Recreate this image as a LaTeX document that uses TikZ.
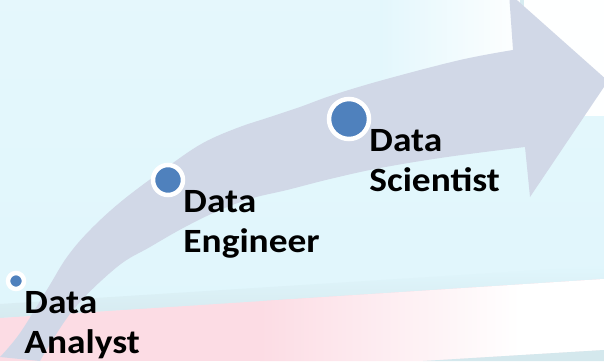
\documentclass[tikz,border=0pt]{standalone}
\usepackage{fontspec}
\setmainfont{Carlito}
\newfontfamily\rolefont[FakeStretch=1.1]{Carlito}
\usetikzlibrary{positioning}

\definecolor{bgcyan}{RGB}{224,246,252}
\definecolor{bgshadow}{RGB}{207,226,231}
\definecolor{bandpink}{RGB}{252,220,228}
\definecolor{arrowgray}{RGB}{209,216,231}
\definecolor{dotblue}{RGB}{79,129,189}

\tikzset{
    dot/.style={circle, fill=dotblue, draw=white, line width=4.5pt, inner sep=0pt},
    role/.style={align=left, inner sep=0pt, font=\rolefont\bfseries\fontsize{34}{40}\selectfont}
}

\begin{document}
\begin{tikzpicture}[x=1pt, y=-1pt]
        \useasboundingbox (0,0) rectangle (604,361);
        \clip (0,0) rectangle (604,361);

        % Фон
        \shade[top color=bgcyan!85!white, bottom color=bgcyan] (0,0) rectangle (604,320);
        \shade[left color=bgcyan!90!white, right color=white!95!bgcyan] (380,0) rectangle (521,110);
        \fill[white!96!bgcyan] (523,0) rectangle (604,116);
        \fill[bgshadow!50!bgcyan] (520,0) rectangle (524,116);
        \shade[top color=bgcyan, bottom color=bgshadow!60!bgcyan] (0,304) -- (604,266) -- (604,280) -- (0,318) -- cycle;

        % Полоса внизу
        \begin{scope}
            \clip (0,318) -- (604,279) -- (604,350) -- (423,361) -- (0,361) -- cycle;
            \fill[bandpink] (0,270) rectangle (604,361);
            \shade[left color=bandpink, right color=white] (260,270) rectangle (520,361);
            \fill[white] (520,270) rectangle (604,361);
        \end{scope}
        \fill[bgshadow!70!bgcyan] (423,361) -- (604,350) -- (604,361) -- cycle;

        % Стрелка
        \fill[arrowgray] plot[smooth, tension=0.6] coordinates {
            (0,357) (20,333) (48,288) (67,257) (90,230) (123,200) (170,165)
            (203,143) (237,128) (270,117) (300,107) (333,95) (383,80) (460,60) (513,50)}
            -- (509,-7) -- (608,81) -- (530,197) --
            plot[smooth, tension=0.6] coordinates {
            (525,147) (447,157) (380,168) (330,179) (287,190) (253,198) (220,210)
            (185,227) (150,247) (117,267) (73,310) (40,361)} -- cycle;

        % Этапы
        \foreach \i/\x/\y/\d/\txt in {
            1/16/281/16/{Data\\Analyst},
            2/168/180/30/{Data\\Engineer},
            3/349/119/40/{Data\\Scientist}}
        {
            \node[dot, minimum size=\d pt] (dot-\i) at (\x,\y) {};
            \node[role, below right=10pt and -2pt of dot-\i.east] (role-\i) {\txt};
        }
    \end{tikzpicture}
\end{document}
